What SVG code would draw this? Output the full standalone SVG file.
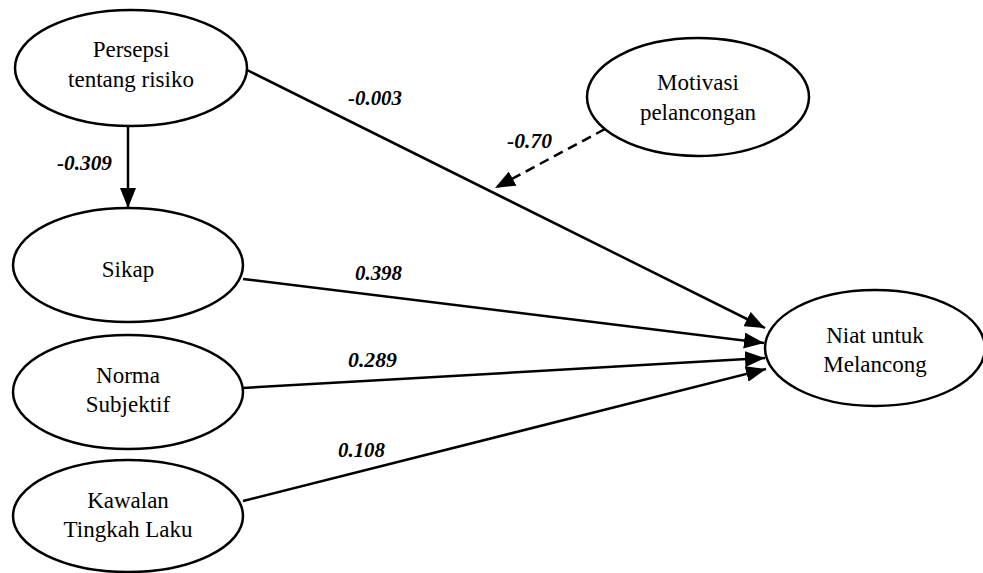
<svg xmlns="http://www.w3.org/2000/svg" width="983" height="573" viewBox="0 0 983 573">
<style>
.node ellipse{fill:#fff;stroke:#000;stroke-width:2.5}
.node text{font-family:"Liberation Serif",serif;font-size:23px;text-anchor:middle;fill:#000}
.edge{stroke:#000;stroke-width:2.5;fill:none}
.lbl{font-family:"Liberation Serif",serif;font-size:21px;font-weight:bold;font-style:italic;fill:#000}
</style>
<defs>
<marker id="ah" viewBox="0 0 10 10" refX="10" refY="5" markerWidth="7" markerHeight="7" markerUnits="userSpaceOnUse" orient="auto">
<path d="M0,0 L10,5 L0,10 z" fill="#000"/>
</marker>
<marker id="a" viewBox="0 0 20 16" refX="20" refY="8" markerWidth="20" markerHeight="16" markerUnits="userSpaceOnUse" orient="auto">
<path d="M0,0 L20,8 L0,16 z" fill="#000"/>
</marker>
</defs>
<rect width="983" height="573" fill="#fff"/>
<g id="connectors">
<line class="edge" x1="128" y1="127" x2="128" y2="208" marker-end="url(#a)"/>
<line class="edge" x1="247" y1="70" x2="765" y2="328" marker-end="url(#a)"/>
<line class="edge" x1="243" y1="279" x2="764" y2="343" marker-end="url(#a)"/>
<line class="edge" x1="243" y1="388" x2="765" y2="358" marker-end="url(#a)"/>
<line class="edge" x1="243" y1="501" x2="766" y2="369" marker-end="url(#a)"/>
<line class="edge" x1="605" y1="129" x2="495" y2="188" stroke-dasharray="10,6" marker-end="url(#a)"/>
<text class="lbl" x="348" y="105" textLength="54" lengthAdjust="spacingAndGlyphs">-0.003</text>
<text class="lbl" x="57" y="170" textLength="55" lengthAdjust="spacingAndGlyphs">-0.309</text>
<text class="lbl" x="507" y="148" textLength="45" lengthAdjust="spacingAndGlyphs">-0.70</text>
<text class="lbl" x="355" y="280" textLength="47" lengthAdjust="spacingAndGlyphs">0.398</text>
<text class="lbl" x="348" y="367" textLength="49" lengthAdjust="spacingAndGlyphs">0.289</text>
<text class="lbl" x="338" y="457" textLength="47" lengthAdjust="spacingAndGlyphs">0.108</text>
</g>
<g id="persepsi" class="node"><ellipse cx="131" cy="68" rx="116" ry="58"/><text x="131" y="57">Persepsi</text><text x="131" y="87">tentang risiko</text></g>
<g id="sikap" class="node"><ellipse cx="128" cy="265" rx="115" ry="57"/><text x="128" y="277">Sikap</text></g>
<g id="norma" class="node"><ellipse cx="128" cy="392" rx="115" ry="57"/><text x="128" y="383">Norma</text><text x="128" y="412">Subjektif</text></g>
<g id="kawalan" class="node"><ellipse cx="128" cy="516" rx="115" ry="56"/><text x="128" y="508">Kawalan</text><text x="128" y="537">Tingkah Laku</text></g>
<g id="motivasi" class="node"><ellipse cx="698" cy="97" rx="111" ry="59"/><text x="698" y="90">Motivasi</text><text x="698" y="120">pelancongan</text></g>
<g id="niat" class="node"><ellipse cx="875" cy="348" rx="110" ry="58"/><text x="875" y="343">Niat untuk</text><text x="875" y="372">Melancong</text></g>
</svg>
